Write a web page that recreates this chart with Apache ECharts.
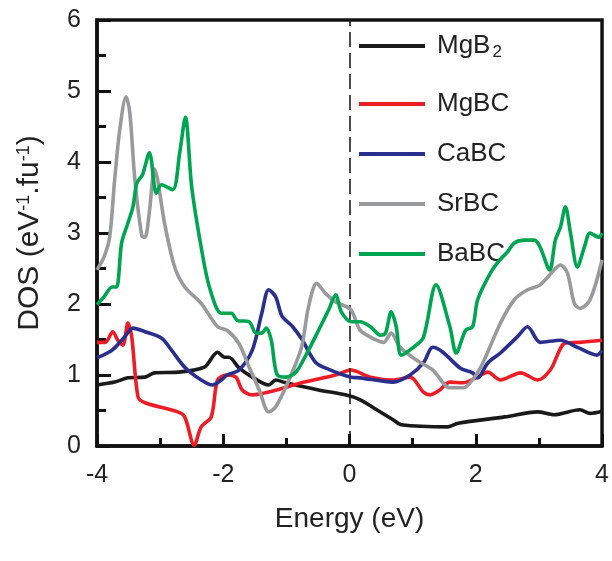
<!DOCTYPE html>
<html>
<head>
<meta charset="utf-8">
<script src="https://cdn.jsdelivr.net/npm/echarts@6/dist/echarts.min.js"></script>
<style>html,body{margin:0;padding:0;background:#fff}#c{width:612px;height:561px}</style>
</head>
<body>
<div id="c"></div>
<script>
var xTicks = [-4, -2, 0, 2, 4];
var yTicks = [0, 1, 2, 3, 4, 5, 6];
var seriesNames = ['MgB2', 'MgBC', 'CaBC', 'SrBC', 'BaBC'];

var mgb2E = [-4.0,-3.72,-3.51,-3.24,-3.09,-2.72,-2.30,-2.09,-1.98,-1.91,-1.75,-1.54,-1.28,-1.17,-1.01,-0.49,-0.02,0.17,0.43,0.69,0.82,1.56,1.72,2.46,2.98,3.24,3.65,3.81,4.0];
var mgb2V = [0.86,0.90,0.96,0.97,1.03,1.04,1.11,1.32,1.25,1.25,1.10,0.97,0.86,0.93,0.89,0.79,0.71,0.65,0.51,0.37,0.30,0.27,0.32,0.41,0.48,0.44,0.51,0.46,0.49];

var mgbcE = [-4.0,-3.87,-3.75,-3.67,-3.59,-3.51,-3.45,-3.35,-3.24,-2.72,-2.61,-2.46,-2.35,-2.19,-2.09,-1.95,-1.80,-1.70,-1.54,-1.28,-0.76,-0.22,0.02,0.33,0.69,0.96,1.17,1.28,1.43,1.59,1.80,2.00,2.19,2.39,2.71,2.98,3.18,3.42,3.65,4.0];
var mgbcV = [1.46,1.46,1.61,1.49,1.42,1.73,1.54,0.69,0.61,0.48,0.41,0.01,0.27,0.41,0.93,1.00,0.97,0.79,0.72,0.76,0.89,1.00,1.07,0.97,0.93,0.97,0.76,0.72,0.79,0.90,0.89,0.96,1.04,0.93,1.03,0.93,1.07,1.45,1.46,1.49];

var cabcE = [-4.0,-3.76,-3.56,-3.43,-3.24,-2.98,-2.82,-2.61,-2.35,-2.17,-2.03,-1.94,-1.75,-1.54,-1.39,-1.28,-1.17,-1.07,-0.91,-0.76,-0.54,-0.33,0.02,0.17,0.69,0.96,1.17,1.32,1.48,1.75,1.95,2.03,2.19,2.39,2.66,2.82,3.02,3.34,3.61,3.92,4.0];
var cabcV = [1.24,1.35,1.54,1.66,1.61,1.52,1.35,1.11,0.93,0.86,0.93,1.00,1.07,1.35,1.87,2.20,2.10,1.83,1.69,1.51,1.18,1.08,0.97,0.96,0.90,1.00,1.17,1.39,1.32,1.10,1.03,0.96,1.17,1.31,1.54,1.68,1.46,1.49,1.39,1.28,1.35];

var srbcE = [-4.0,-3.89,-3.80,-3.72,-3.64,-3.54,-3.48,-3.40,-3.29,-3.24,-3.17,-3.09,-3.04,-2.93,-2.77,-2.61,-2.35,-2.09,-1.94,-1.75,-1.59,-1.43,-1.28,-1.17,-0.96,-0.76,-0.65,-0.52,-0.38,-0.22,0.02,0.17,0.43,0.54,0.66,0.80,1.06,1.32,1.59,1.80,1.91,2.08,2.39,2.61,2.82,3.02,3.24,3.34,3.45,3.56,3.65,3.81,4.0];
var srbcV = [2.48,2.66,2.94,3.75,4.45,4.92,4.69,3.75,2.96,2.94,3.30,3.90,3.75,3.14,2.52,2.24,2.01,1.68,1.63,1.44,1.11,0.79,0.48,0.55,0.93,1.39,1.96,2.29,2.15,2.03,1.92,1.63,1.49,1.46,1.59,1.39,1.21,1.07,0.82,0.82,0.89,1.11,1.73,2.06,2.20,2.27,2.48,2.55,2.44,2.01,1.94,2.06,2.62];

var babcE = [-4.0,-3.89,-3.76,-3.69,-3.61,-3.51,-3.43,-3.37,-3.28,-3.17,-3.06,-2.98,-2.80,-2.69,-2.60,-2.50,-2.35,-2.22,-2.03,-1.87,-1.78,-1.59,-1.48,-1.39,-1.32,-1.24,-1.15,-1.01,-0.85,-0.69,-0.49,-0.33,-0.22,-0.13,0.03,0.17,0.33,0.49,0.57,0.66,0.74,0.82,1.01,1.17,1.37,1.59,1.69,1.84,1.95,2.03,2.24,2.39,2.50,2.61,2.77,2.93,3.02,3.17,3.26,3.34,3.42,3.50,3.61,3.72,3.81,3.95,4.0];
var babcV = [1.99,2.10,2.24,2.24,2.86,3.14,3.37,3.70,3.82,4.13,3.56,3.68,3.61,4.13,4.63,3.65,2.80,2.24,1.87,1.87,1.77,1.75,1.59,1.59,1.66,1.49,1.01,0.97,1.04,1.28,1.63,1.92,2.13,1.89,1.75,1.75,1.68,1.56,1.59,1.89,1.68,1.28,1.39,1.53,2.27,1.68,1.31,1.63,1.68,2.06,2.45,2.63,2.73,2.86,2.90,2.90,2.80,2.48,2.90,3.08,3.37,3.00,2.52,2.80,3.00,2.94,3.00];

function pairs(e, v) { return e.map(function (x, i) { return [x, v[i]]; }); }

var colors = ['#1a1a1a', '#ee1c25', '#2a2e8c', '#999a9c', '#00a551'];
var dataSets = [pairs(mgb2E, mgb2V), pairs(mgbcE, mgbcV), pairs(cabcE, cabcV), pairs(srbcE, srbcV), pairs(babcE, babcV)];
var FONT = '"Liberation Sans", Arial, sans-serif';
var legendTops = [26, 84, 134, 184, 234];

var series = seriesNames.map(function (n, i) {
  return {
    name: n, type: 'line', data: dataSets[i], showSymbol: false, smooth: 0.3,
    lineStyle: { color: colors[i], width: 3.6 }, itemStyle: { color: colors[i] },
    z: 3 + i
  };
});
series[0].markLine = {
  silent: true, symbol: 'none', label: { show: false },
  lineStyle: { color: '#111', width: 1.5, type: [15, 6] },
  data: [{ xAxis: 0 }]
};

var legends = seriesNames.map(function (n, i) {
  return {
    orient: 'vertical', left: 354, top: legendTops[i], itemWidth: 66, itemHeight: 4,
    icon: 'rect', data: [n], selectedMode: false,
    formatter: function (nm) { return nm === 'MgB2' ? 'MgB{sub|2}' : nm; },
    textStyle: {
      fontSize: 26, lineHeight: 30, color: '#222', fontFamily: FONT, padding: [0, 0, 0, 7],
      rich: { sub: { fontSize: 17, lineHeight: 30, verticalAlign: 'bottom', padding: [10, 0, 0, 2], fontFamily: FONT, color: '#222' } }
    }
  };
});

var chart = echarts.init(document.getElementById('c'));
chart.setOption({
  animation: false,
  backgroundColor: '#fff',
  textStyle: { fontFamily: FONT },
  grid: { left: 97, right: 5, top: 20, bottom: 115, show: true, borderColor: '#111', borderWidth: 3.5 },
  legend: legends,
  xAxis: {
    type: 'value', min: xTicks[0], max: xTicks[xTicks.length - 1], interval: 2,
    name: 'Energy (eV)', nameLocation: 'middle', nameGap: 59,
    nameTextStyle: { fontSize: 28, color: '#222', fontFamily: FONT },
    axisLine: { show: true, onZero: false, lineStyle: { color: '#111', width: 3.5 } },
    axisTick: { show: true, inside: true, length: 12, lineStyle: { color: '#111', width: 3 } },
    minorTick: { show: true, splitNumber: 2, length: 8, lineStyle: { color: '#111', width: 3 } },
    axisLabel: { fontSize: 25, color: '#222', margin: 17, fontFamily: FONT },
    splitLine: { show: false }
  },
  yAxis: {
    type: 'value', min: yTicks[0], max: yTicks[yTicks.length - 1], interval: 1,
    name: 'DOS (eV{sup|-1}.fu{sup|-1})', nameLocation: 'middle', nameGap: 52, nameRotate: 90,
    nameTextStyle: {
      fontSize: 30, color: '#222', fontFamily: FONT,
      rich: { sup: { fontSize: 18, verticalAlign: 'top', padding: [0, 0, 12, 0], fontFamily: FONT, color: '#222' } }
    },
    axisLine: { show: true, onZero: false, lineStyle: { color: '#111', width: 3.5 } },
    axisTick: { show: true, inside: true, length: 14, lineStyle: { color: '#111', width: 3 } },
    minorTick: { show: true, splitNumber: 2, length: 9, lineStyle: { color: '#111', width: 3 } },
    axisLabel: { fontSize: 25, color: '#222', margin: 16, fontFamily: FONT },
    splitLine: { show: false }
  },
  series: series
});
</script>
</body>
</html>
